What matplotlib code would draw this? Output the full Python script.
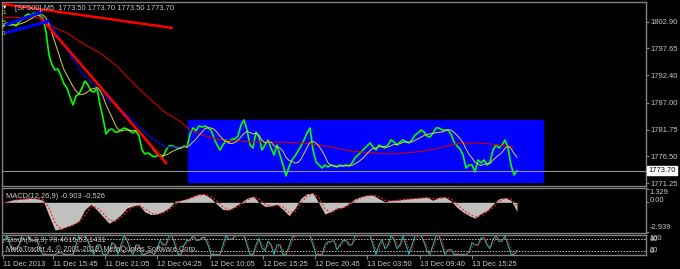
import numpy as np
import pandas as pd
import matplotlib
matplotlib.use('Agg')
import matplotlib.pyplot as plt
from matplotlib.patches import Rectangle

# SP500 M5 close, one value per 3 px of chart (bar index)
close = [
    1801.86, 1802.25, 1802.64, 1802.25, 1802.45, 1802.06, 1802.84, 1803.23, 1804.02, 1804.41,
    1804.21, 1804.60, 1804.41, 1804.02, 1803.62, 1800.88, 1796.38, 1794.42, 1793.44, 1793.63,
    1792.26, 1790.70, 1789.91, 1788.15, 1786.58, 1788.34, 1788.74, 1789.91, 1791.28, 1790.50,
    1789.32, 1789.13, 1789.91, 1786.58, 1784.03, 1780.90, 1781.68, 1781.88, 1781.29, 1781.29,
    1781.68, 1782.08, 1781.88, 1781.49, 1781.10, 1781.49, 1780.51, 1777.77, 1776.98, 1777.18,
    1776.79, 1776.40, 1776.59, 1776.79, 1776.40, 1777.77, 1778.55, 1778.55, 1778.35, 1778.16,
    1778.16, 1778.55, 1778.35, 1780.90, 1782.08, 1781.49, 1782.47, 1782.27, 1782.47, 1782.08,
    1781.68, 1780.12, 1778.75, 1777.77, 1778.75, 1779.73, 1779.33, 1779.92, 1779.92, 1780.51,
    1782.66, 1783.64, 1781.68, 1778.75, 1778.16, 1781.29, 1780.31, 1777.77, 1778.75, 1779.73,
    1778.16, 1776.79, 1778.75, 1776.79, 1774.83, 1772.67, 1774.44, 1775.81, 1776.59, 1777.57,
    1778.55, 1779.73, 1781.10, 1782.08, 1777.77, 1775.42, 1774.83, 1774.24, 1774.83, 1774.44,
    1774.83, 1774.63, 1774.44, 1774.83, 1774.63, 1774.83, 1774.63, 1775.22, 1776.20, 1776.79,
    1777.37, 1777.96, 1778.55, 1779.14, 1778.35, 1777.77, 1778.75, 1778.35, 1778.16, 1778.75,
    1779.73, 1779.33, 1778.75, 1779.33, 1779.73, 1779.33, 1779.14, 1779.73, 1780.70, 1781.10,
    1781.68, 1781.29, 1780.51, 1780.31, 1781.10, 1782.08, 1782.08, 1781.68, 1781.68, 1781.68,
    1780.90, 1779.33, 1778.55, 1777.96, 1776.79, 1774.24, 1774.83, 1774.83, 1773.46, 1775.81,
    1775.22, 1775.81, 1774.83, 1775.42, 1777.77, 1778.75, 1778.16, 1778.75, 1779.73, 1778.16,
    1774.83, 1772.87, 1773.70,
]

# slow MA (dark red) and medium MA (blue), read at a few bars
red_ma_bars = [0, 13, 16, 22, 27, 33, 39, 44, 50, 55, 60, 63, 67, 73, 84, 90, 101, 106, 112,
               116, 120, 130, 135, 141, 146, 150, 153, 160, 166, 171]
red_ma = [1803.82, 1803.62, 1802.25, 1800.69, 1798.73, 1796.77, 1794.03, 1790.89, 1787.56,
          1785.01, 1783.25, 1781.68, 1780.70, 1779.73, 1779.33, 1779.33, 1779.14, 1778.75,
          1778.16, 1777.57, 1777.37, 1776.98, 1777.18, 1777.57, 1778.16, 1778.75, 1779.14,
          1779.14, 1778.75, 1778.35]
blue_ma_bars = [13, 16, 22, 27, 32, 36, 44, 50, 55, 60, 62]
blue_ma = [1803.62, 1803.04, 1797.36, 1792.85, 1789.91, 1787.56, 1783.64, 1780.12,
           1778.35, 1778.35, 1778.55]

# MACD(12,26,9) main line, every second bar
macd = [-0.1, 0.1, 0.25, 0.3, 0.35, 0.4, 0.35, 0.2, -1.3, -2.7,
        -2.6, -2.35, -2.15, -1.8, -0.7, -0.2, -0.75, -1.4, -2.05, -1.7,
        -1.2, -0.55, -0.35, -0.25, -0.95, -1.2, -1.15, -0.9, -0.55, 0.1,
        0.2, 0.35, 0.6, 0.8, 0.75, 0.4, -0.2, -0.7, -0.75, -0.4,
        0.0, 0.4, 0.6, 0.0, -0.4, -0.35, -0.2, -0.7, -1.3, -0.6,
        0.4, 0.85, 0.9, -0.1, -1.15, -0.9, -0.55, -0.5, -0.1, 0.35,
        0.55, 0.7, 0.7, 0.35, 0.05, 0.2, 0.2, 0.3, 0.35, 0.4,
        0.45, 0.5, 0.2, 0.5, 0.5, 0.15, -0.5, -0.95, -1.3, -1.55,
        -1.1, -0.8, -0.2, 0.35, 0.45, 0.2, -0.903]

# trend objects drawn on the chart: (bar0, price0, bar1, price1)
red_lines = [(0.7, 1806.37, 57.3, 1801.66), (13, 1803.82, 55.3, 1775.02)]
blue_lines = [(1.3, 1802.25, 13.7, 1804.80), (1.3, 1800.69, 16.3, 1803.04)]
box_bars = (62.3, 180.7)
box_prices = (1771.5, 1783.65)
last_price = 1773.70

price_ticks = [1802.90, 1797.65, 1792.40, 1787.00, 1781.75, 1776.50, 1771.25]
time_ticks = [0.7, 17.3, 34.7, 52, 69.7, 87.3, 104.7, 122, 139.7, 157]
time_labels = ['11 Dec 2013', '11 Dec 15:45', '11 Dec 21:05', '12 Dec 04:25',
               '12 Dec 10:05', '12 Dec 15:25', '12 Dec 20:45', '13 Dec 03:50',
               '13 Dec 09:40', '13 Dec 15:25']

W, H = 680, 269
plt.rcParams['font.family'] = ['Liberation Sans', 'DejaVu Sans']
fs = 5.4
fg = '#c8c8c8'
grey = '#808080'

s = pd.Series(close)
bars = np.arange(len(close))
fast_ma = s.rolling(6, min_periods=1).mean()
macd_s = pd.Series(macd)
macd_sig = macd_s.rolling(2, min_periods=1).mean()
lo = s.rolling(3, min_periods=1).min()
hi = s.rolling(3, min_periods=1).max()
k_raw = ((s - lo) / (hi - lo).replace(0, np.nan) * 100).fillna(50)
stoch_k = k_raw.rolling(2, min_periods=1).mean()
stoch_d = stoch_k.rolling(2, min_periods=1).mean()


def px_axes(x0, y0, x1, y1):
    return fig.add_axes([x0 / W, 1 - y1 / H, (x1 - x0) / W, (y1 - y0) / H])


fig = plt.figure(figsize=(W / 100, H / 100), dpi=100, facecolor='black')
ax = px_axes(2, 2, 646, 186)
ax2 = px_axes(2, 188, 646, 233)
ax3 = px_axes(2, 235, 646, 255)

for a in (ax, ax2, ax3):
    a.set_facecolor('black')
    a.set_xlim(0.33, 215)
    for sp in a.spines.values():
        sp.set_color(grey)
        sp.set_linewidth(1.0)
    a.yaxis.tick_right()
    a.tick_params(axis='y', direction='out', length=2, color=grey, labelcolor=fg,
                  labelsize=fs, pad=1.5)
    a.tick_params(axis='x', bottom=False, labelbottom=False)

# main chart
ax.set_ylim(1770.71, 1806.76)
ax.add_patch(Rectangle((box_bars[0], box_prices[0]), box_bars[1] - box_bars[0],
                       box_prices[1] - box_prices[0], color='#0000ff', zorder=1))
ax.plot(bars, close, color='#00ff00', lw=1.2, zorder=2)
ax.plot(red_ma_bars, red_ma, color='#d00000', lw=0.8, zorder=3)
ax.plot(blue_ma_bars, blue_ma, color='#0000ff', lw=0.8, zorder=3)
ax.plot(bars, fast_ma, color='#d8d040', lw=0.7, zorder=4)
for b0, p0, b1, p1 in red_lines:
    ax.plot([b0, b1], [p0, p1], color='#ff0000', lw=1.8, zorder=5, solid_capstyle='butt')
for b0, p0, b1, p1 in blue_lines:
    ax.plot([b0, b1], [p0, p1], color='#0000ff', lw=2.2, zorder=5, solid_capstyle='butt')
ax.axhline(last_price, color='#9090a0', lw=0.8, zorder=6)
ax.set_yticks(price_ticks)
ax.set_yticklabels(['%.2f' % v for v in price_ticks])
ax.text(1.004, last_price, '%.2f' % last_price, transform=ax.get_yaxis_transform(),
        ha='left', va='center', fontsize=fs, color='black',
        bbox=dict(facecolor='white', edgecolor='white', pad=0.8))

fig.text(15 / W, 1 - 8 / H, '[SP500],M5  1773.50 1773.70 1773.50 1773.70',
         color=fg, fontsize=fs, va='center', ha='left')
fig.text(5 / W, 1 - 7 / H, '\u25bc', color='white', fontsize=4, va='center', ha='center')
for lab, yy in [('1', 12), ('5', 22), ('0', 33)]:
    fig.text(4 / W, 1 - yy / H, lab, color='#e0e000', fontsize=4.5, va='center', ha='center')

# MACD
ax2.set_ylim(-3.0, 1.40)
mb = bars[::2][:len(macd)]
ax2.fill_between(mb, 0, macd, color='#c0c0c0', lw=0)
ax2.plot(mb, macd_sig, color='#ff2020', lw=0.9, ls=(0, (1.5, 1.5)))
ax2.set_yticks([1.329, 0.0, -2.939])
ax2.set_yticklabels([])
for lab, yy in [('1.329', 0.98), ('0.00', 0.2), ('-2.939', -2.48)]:
    ax2.text(1.006, yy, lab, transform=ax2.get_yaxis_transform(), color=fg,
             fontsize=fs, va='center', ha='left')
ax2.text(0.006, 0.82, 'MACD(12,26,9) -0.903 -0.526', transform=ax2.transAxes,
         color=fg, fontsize=fs, va='center', ha='left')

# Stochastic
ax3.set_ylim(-3, 103)
for lvl in (80, 20):
    ax3.axhline(lvl, color=fg, lw=0.7, ls=(0, (1.5, 1.5)))
ax3.plot(bars, stoch_k, color='#20b2aa', lw=0.8)
ax3.plot(bars, stoch_d, color='#ff2020', lw=0.7, ls=(0, (1.5, 1.5)))
ax3.set_yticks([])
# MT4 draws the 100/80 and 20/0 level labels on top of each other
for lab, yy in [('100', 82), ('80', 80), ('20', 20), ('0', 18)]:
    ax3.text(1.006, yy, lab, transform=ax3.get_yaxis_transform(), color=fg,
             fontsize=fs, va='center', ha='left')
ax3.text(0.006, 0.72, 'Stoch(5,3,3) 78.4615 53.1431', transform=ax3.transAxes,
         color=fg, fontsize=fs, va='center', ha='left')
ax3.text(0.006, 0.3, 'MetaTrader 4, \u00a9 2001-2013, MetaQuotes Software Corp.',
         transform=ax3.transAxes, color=fg, fontsize=fs, va='center', ha='left')

ax3.tick_params(axis='x', bottom=True, labelbottom=True, direction='out', length=3,
                color=grey, labelcolor=fg, labelsize=fs, pad=1)
ax3.set_xticks(time_ticks)
ax3.set_xticklabels(time_labels)
for lab in ax3.get_xticklabels():
    lab.set_ha('left')

fig.savefig('out.png', dpi=100, facecolor='black')
